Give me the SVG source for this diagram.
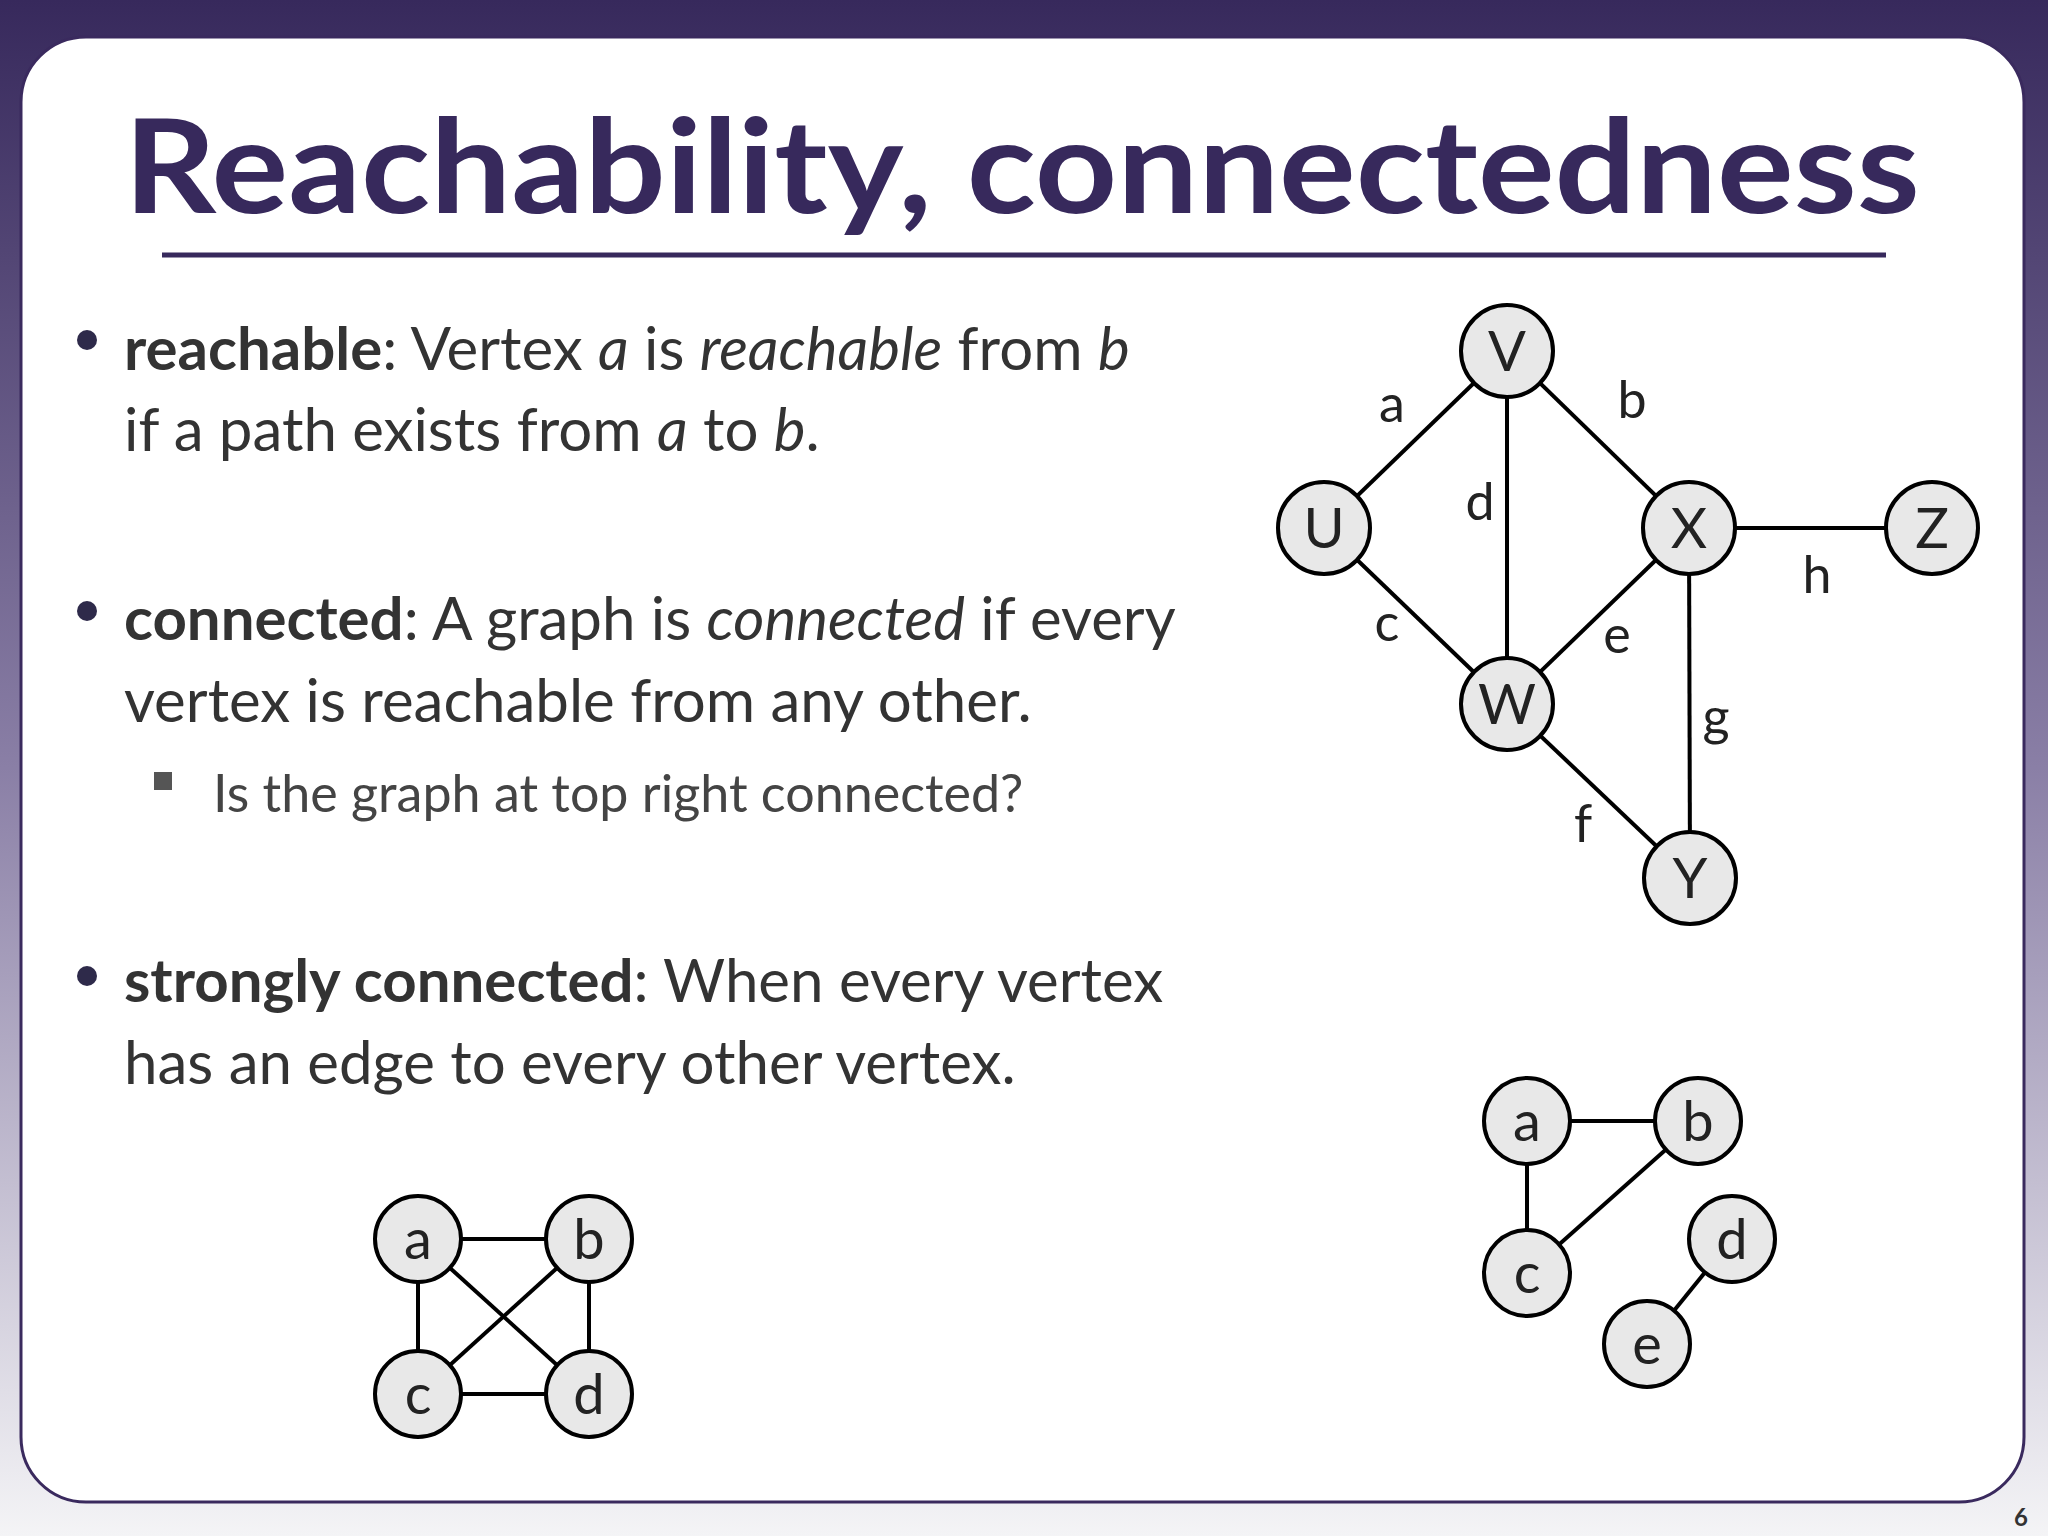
<svg xmlns="http://www.w3.org/2000/svg" width="2048" height="1536" viewBox="0 0 2048 1536">
<defs>
<linearGradient id="bg" x1="0" y1="0" x2="0" y2="1">
<stop offset="0" stop-color="#37295c"/>
<stop offset="0.5" stop-color="#8a7fa6"/>
<stop offset="1" stop-color="#f4f4f6"/>
</linearGradient>
<style>
.t{font-family:Lato,"Open Sans","Liberation Sans",sans-serif;fill:#333;font-size:60px}
.b{font-weight:bold}
.i{font-style:italic}
.n circle{fill:#e8e8e8;stroke:#000;stroke-width:4}
.n text{font-family:Lato,"Open Sans","Liberation Sans",sans-serif;font-size:56px;fill:#222;text-anchor:middle}
.e line{stroke:#000;stroke-width:4}
.l{font-family:Lato,"Open Sans","Liberation Sans",sans-serif;font-size:52px;fill:#222;text-anchor:middle}
</style>
</defs>
<rect width="2048" height="1536" fill="url(#bg)"/>
<rect x="21" y="37" width="2003" height="1465" rx="65" fill="#fff" stroke="#3a2a5e" stroke-width="3"/>
<text x="124" y="213" font-family="Lato,'Open Sans','Liberation Sans',sans-serif" font-weight="bold" font-size="130" fill="#37295c" textLength="1796" lengthAdjust="spacingAndGlyphs">Reachability, connectedness</text>
<line x1="162" y1="255" x2="1886" y2="255" stroke="#37295c" stroke-width="5"/>
<g fill="#2e2a4a"><circle cx="87" cy="340" r="10"/><circle cx="87" cy="611" r="10"/><circle cx="87" cy="976" r="10"/></g>
<rect x="154" y="772" width="18" height="18" fill="#555"/>
<text class="t" x="124" y="370"><tspan class="b">reachable</tspan>: Vertex <tspan class="i">a</tspan> is <tspan class="i">reachable</tspan> from <tspan class="i">b</tspan></text>
<text class="t" x="124" y="451">if a path exists from <tspan class="i">a</tspan> to <tspan class="i">b</tspan>.</text>
<text class="t" x="124" y="640"><tspan class="b">connected</tspan>: A graph is <tspan class="i">connected</tspan> if every</text>
<text class="t" x="124" y="722">vertex is reachable from any other.</text>
<text class="t" x="213" y="812" style="font-size:52px;fill:#444">Is the graph at top right connected?</text>
<text class="t" x="124" y="1002"><tspan class="b">strongly connected</tspan>: When every vertex</text>
<text class="t" x="124" y="1084">has an edge to every other vertex.</text>
<g id="edges" class="e">
<line x1="1507" y1="351" x2="1324" y2="528"/>
<line x1="1507" y1="351" x2="1689" y2="528"/>
<line x1="1507" y1="351" x2="1507" y2="704"/>
<line x1="1324" y1="528" x2="1507" y2="704"/>
<line x1="1689" y1="528" x2="1507" y2="704"/>
<line x1="1689" y1="528" x2="1932" y2="528"/>
<line x1="1689" y1="528" x2="1690" y2="878"/>
<line x1="1507" y1="704" x2="1690" y2="878"/>
<line x1="418" y1="1239" x2="589" y2="1239"/>
<line x1="418" y1="1239" x2="418" y2="1394"/>
<line x1="418" y1="1239" x2="589" y2="1394"/>
<line x1="589" y1="1239" x2="418" y2="1394"/>
<line x1="589" y1="1239" x2="589" y2="1394"/>
<line x1="418" y1="1394" x2="589" y2="1394"/>
<line x1="1527" y1="1121" x2="1698" y2="1121"/>
<line x1="1527" y1="1121" x2="1527" y2="1273"/>
<line x1="1698" y1="1121" x2="1527" y2="1273"/>
<line x1="1732" y1="1239" x2="1647" y2="1344"/>
</g>
<g id="labels">
<text class="l" x="1392" y="422">a</text>
<text class="l" x="1632" y="418">b</text>
<text class="l" x="1480" y="520">d</text>
<text class="l" x="1387" y="641">c</text>
<text class="l" x="1617" y="653">e</text>
<text class="l" x="1716" y="735">g</text>
<text class="l" x="1817" y="593">h</text>
<text class="l" x="1583" y="842">f</text>
</g>
<g id="V" class="n"><circle cx="1507" cy="351" r="46"/><text x="1507" y="371">V</text></g>
<g id="U" class="n"><circle cx="1324" cy="528" r="46"/><text x="1324" y="548">U</text></g>
<g id="X" class="n"><circle cx="1689" cy="528" r="46"/><text x="1689" y="548">X</text></g>
<g id="Z" class="n"><circle cx="1932" cy="528" r="46"/><text x="1932" y="548">Z</text></g>
<g id="W" class="n"><circle cx="1507" cy="704" r="46"/><text x="1507" y="724">W</text></g>
<g id="Y" class="n"><circle cx="1690" cy="878" r="46"/><text x="1690" y="898">Y</text></g>
<g id="ka" class="n"><circle cx="418" cy="1239" r="43"/><text x="418" y="1259">a</text></g>
<g id="kb" class="n"><circle cx="589" cy="1239" r="43"/><text x="589" y="1259">b</text></g>
<g id="kc" class="n"><circle cx="418" cy="1394" r="43"/><text x="418" y="1414">c</text></g>
<g id="kd" class="n"><circle cx="589" cy="1394" r="43"/><text x="589" y="1414">d</text></g>
<g id="ra" class="n"><circle cx="1527" cy="1121" r="43"/><text x="1527" y="1141">a</text></g>
<g id="rb" class="n"><circle cx="1698" cy="1121" r="43"/><text x="1698" y="1141">b</text></g>
<g id="rc" class="n"><circle cx="1527" cy="1273" r="43"/><text x="1527" y="1293">c</text></g>
<g id="rd" class="n"><circle cx="1732" cy="1239" r="43"/><text x="1732" y="1259">d</text></g>
<g id="re" class="n"><circle cx="1647" cy="1344" r="43"/><text x="1647" y="1364">e</text></g>
<text x="2028" y="1526" font-family="Lato,'Liberation Sans',sans-serif" font-weight="bold" font-size="24" fill="#333" text-anchor="end">6</text>
</svg>
